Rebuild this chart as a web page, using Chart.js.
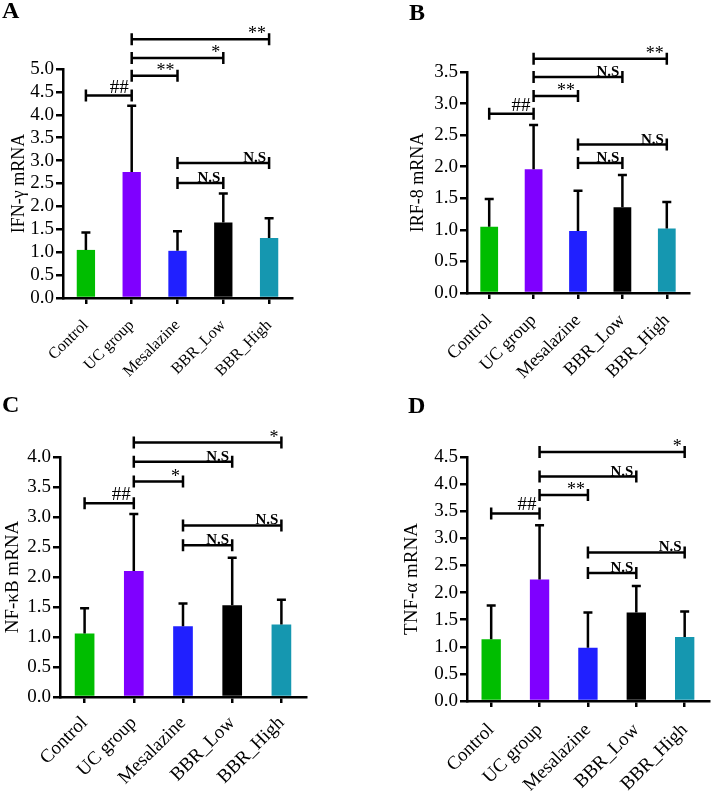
<!DOCTYPE html>
<html>
<head>
<meta charset="utf-8">
<script src="https://cdn.jsdelivr.net/npm/chart.js@4/dist/chart.umd.min.js"></script>
<style>
  body { margin: 0; background: #fff; width: 713px; height: 791px; position: relative; overflow: hidden; }
  .p { position: absolute; }
  canvas { display: block; }
</style>
</head>
<body>
<div class="p" style="left:0;top:0"><canvas id="gA" width="356" height="395"></canvas></div>
<div class="p" style="left:356px;top:0"><canvas id="gB" width="357" height="395"></canvas></div>
<div class="p" style="left:0;top:395px"><canvas id="gC" width="356" height="396"></canvas></div>
<div class="p" style="left:356px;top:395px"><canvas id="gD" width="357" height="396"></canvas></div>
<script>
// groups and values (mean, SD)
var groups = ['Control', 'UC group', 'Mesalazine', 'BBR_Low', 'BBR_High']
var barColors = ['#00bd00', '#7f00ff', '#2020ff', '#000000', '#1597b0']

var ifnMean = [1.05, 2.75, 1.03, 1.65, 1.31]
var ifnSd = [0.38, 1.45, 0.43, 0.63, 0.43]
var irfMean = [1.05, 1.96, 0.98, 1.36, 1.02]
var irfSd = [0.44, 0.70, 0.64, 0.51, 0.42]
var nfkbMean = [1.06, 2.10, 1.18, 1.53, 1.21]
var nfkbSd = [0.42, 0.95, 0.38, 0.79, 0.41]
var tnfMean = [1.14, 2.24, 0.98, 1.63, 1.18]
var tnfSd = [0.62, 1.00, 0.65, 0.49, 0.47]

// significance brackets: [from group, to group, height, label]
var ifnSig = [[0, 1, 4.42, '##'], [1, 2, 4.85, '**'], [1, 3, 5.24, '*'], [1, 4, 5.65, '**'], [2, 3, 2.51, 'N.S'], [2, 4, 2.95, 'N.S']]
var irfSig = [[0, 1, 2.84, '##'], [1, 2, 3.12, '**'], [1, 3, 3.42, 'N.S'], [1, 4, 3.71, '**'], [2, 3, 2.06, 'N.S'], [2, 4, 2.35, 'N.S']]
var nfkbSig = [[0, 1, 3.23, '##'], [1, 2, 3.59, '*'], [1, 3, 3.92, 'N.S'], [1, 4, 4.24, '*'], [2, 3, 2.53, 'N.S'], [2, 4, 2.86, 'N.S']]
var tnfSig = [[0, 1, 3.46, '##'], [1, 2, 3.80, '**'], [1, 3, 4.14, 'N.S'], [1, 4, 4.59, '*'], [2, 3, 2.36, 'N.S'], [2, 4, 2.74, 'N.S']]

var SERIF = '"Liberation Serif", "Times New Roman", serif'

function panel(id, letter, yTitle, mean, sd, yMax, sig, g) {
  var titleSize = g.titleSize
  var axisLeft = g.titleX - 2 - titleSize * 0.6
  var ctx = document.getElementById(id).getContext('2d')

  var marks = {
    id: 'marks_' + id,
    afterDatasetsDraw: function (chart) {
      var c = chart.ctx, x = chart.scales.x, y = chart.scales.y
      c.save()
      c.strokeStyle = '#000'
      c.lineWidth = 2.5
      // error bars (upper only)
      for (var i = 0; i < mean.length; i++) {
        var px = x.getPixelForValue(i)
        var y0 = y.getPixelForValue(mean[i])
        var y1 = y.getPixelForValue(mean[i] + sd[i])
        c.beginPath()
        c.moveTo(px, y0); c.lineTo(px, y1)
        c.moveTo(px - 4.5, y1); c.lineTo(px + 4.5, y1)
        c.stroke()
      }
      // brackets
      c.fillStyle = '#000'
      c.textAlign = 'right'
      c.textBaseline = 'alphabetic'
      sig.forEach(function (s) {
        var xa = x.getPixelForValue(s[0]), xb = x.getPixelForValue(s[1])
        var yy = y.getPixelForValue(s[2])
        c.beginPath()
        c.moveTo(xa, yy); c.lineTo(xb, yy)
        c.moveTo(xa, yy - 6); c.lineTo(xa, yy + 6)
        c.moveTo(xb, yy - 6); c.lineTo(xb, yy + 6)
        c.stroke()
        var off = 0
        if (s[3] === 'N.S') { c.font = 'bold 15px ' + SERIF; off = 2 }
        else if (s[3] === '##') { c.font = '19px ' + SERIF; off = 0 }
        else { c.font = '18px ' + SERIF; off = 3 }
        c.fillText(s[3], xb - 3, yy - 3 + off)
      })
      // panel letter
      c.textAlign = 'left'
      c.font = 'bold 24px ' + SERIF
      c.fillText(letter, g.letterX, g.letterY)
      c.restore()
    }
  }

  return new Chart(ctx, {
    type: 'bar',
    data: {
      labels: groups,
      datasets: [{
        data: mean,
        backgroundColor: barColors,
        barPercentage: 0.4,
        categoryPercentage: 1
      }]
    },
    options: {
      responsive: false,
      animation: false,
      layout: { padding: { left: axisLeft, top: g.top, right: g.right, bottom: 0 } },
      plugins: {
        legend: { display: false },
        tooltip: { enabled: false }
      },
      scales: {
        x: {
          grid: { offset: false, drawOnChartArea: false, color: '#000', lineWidth: 2.5, tickLength: 6 },
          border: { color: '#000', width: 2.5 },
          ticks: {
            color: '#000', font: { family: SERIF, size: g.xFont },
            maxRotation: 45, minRotation: 45, autoSkip: false, padding: g.xPad
          },
          afterFit: function (s) { s.height = g.xH }
        },
        y: {
          min: 0,
          max: yMax,
          grid: { drawOnChartArea: false, color: '#000', lineWidth: 2.5, tickLength: 7 },
          border: { color: '#000', width: 2.5 },
          ticks: {
            stepSize: 0.5, autoSkip: false, maxTicksLimit: 30,
            color: '#000', font: { family: SERIF, size: 19, lineHeight: 1 }, padding: 2,
            callback: function (v) { return v.toFixed(1) }
          },
          title: {
            display: true, text: yTitle, color: '#000',
            font: { family: SERIF, size: titleSize }, padding: { top: 2, bottom: 0 }
          },
          afterFit: function (s) { s.width = g.areaL - axisLeft }
        }
      }
    },
    plugins: [marks]
  })
}

var chartA = panel('gA', 'A', 'IFN-\u03b3 mRNA', ifnMean, ifnSd, 5.0, ifnSig,
  { titleX: 19, titleSize: 18, areaL: 63, top: 69, right: 64, xH: 97, xFont: 16, xPad: 12, letterX: 2, letterY: 18 })
var chartB = panel('gB', 'B', 'IRF-8 mRNA', irfMean, irfSd, 3.5, irfSig,
  { titleX: 62, titleSize: 18, areaL: 111, top: 72, right: 24, xH: 102, xFont: 18, xPad: 11, letterX: 53, letterY: 20 })
var chartC = panel('gC', 'C', 'NF-\u03baB mRNA', nfkbMean, nfkbSd, 4.0, nfkbSig,
  { titleX: 13, titleSize: 19, areaL: 60, top: 62, right: 50, xH: 94, xFont: 19, xPad: 9, letterX: 2, letterY: 17 })
var chartD = panel('gD', 'D', 'TNF-\u03b1 mRNA', tnfMean, tnfSd, 4.5, tnfSig,
  { titleX: 56, titleSize: 19, areaL: 111, top: 62, right: 2, xH: 90, xFont: 19, xPad: 12, letterX: 52, letterY: 18 })
</script>
</body>
</html>
